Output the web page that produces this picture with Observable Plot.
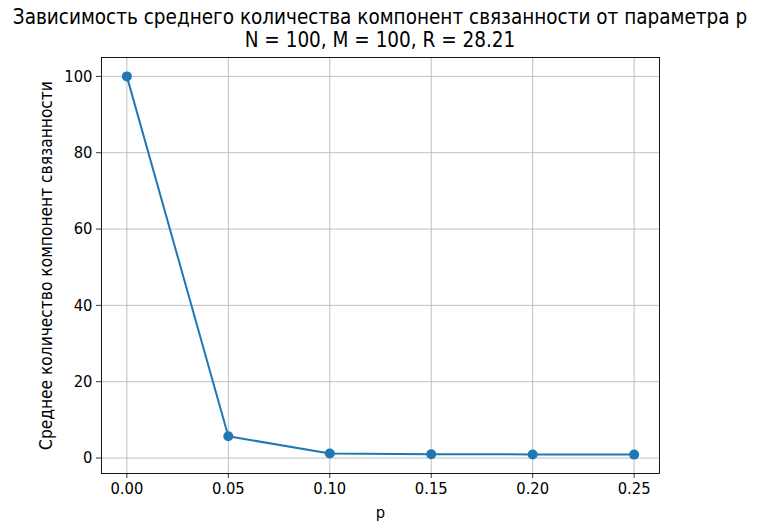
<!DOCTYPE html>
<html>
<head>
<meta charset="utf-8">
<script src="https://cdn.jsdelivr.net/npm/d3@7"></script>
<script src="https://cdn.jsdelivr.net/npm/@observablehq/plot@0.6"></script>
<style>
  html, body { margin: 0; padding: 0; background: #fff; }
  #wrap { position: relative; width: 762px; height: 532px; font-family: "DejaVu Sans Condensed", "DejaVu Sans", sans-serif; }
  .title { position: absolute; left: 0; width: 760px; text-align: center; font-size: 20.5px; color: #000; white-space: nowrap; line-height: 1; }
</style>
</head>
<body>
<div id="wrap">
  <div class="title" style="top:7px;">Зависимость среднего количества компонент связанности от параметра p</div>
  <div class="title" style="top:30px;">N = 100, M = 100, R = 28.21</div>
</div>
<script>
const pValues = [0.00, 0.05, 0.10, 0.15, 0.20, 0.25];
const meanComponents = [100, 5.7, 1.2, 1.0, 0.95, 0.9];
const xTicks = [0.00, 0.05, 0.10, 0.15, 0.20, 0.25];
const yTicks = [0, 20, 40, 60, 80, 100];
const titleText = "Зависимость среднего количества компонент связанности от параметра p";
const subtitleText = "N = 100, M = 100, R = 28.21";
const xLabel = "p";
const yLabel = "Среднее количество компонент связанности";

const data = pValues.map((p, i) => ({p, v: meanComponents[i]}));
const color = "#1f77b4";

const chart = Plot.plot({
  width: 762,
  height: 532,
  marginTop: 57,
  marginBottom: 59,
  marginLeft: 101,
  marginRight: 103,
  style: {fontFamily: "'DejaVu Sans Condensed', 'DejaVu Sans', sans-serif", fontSize: "16.4px", color: "#000", background: "transparent", overflow: "visible"},
  x: {domain: [-0.0125, 0.2625]},
  y: {domain: [-4.05, 104.95]},
  marks: [
    Plot.gridX(xTicks, {stroke: "#b0b0b0", strokeOpacity: 1, strokeWidth: 0.8}),
    Plot.gridY(yTicks, {stroke: "#b0b0b0", strokeOpacity: 1, strokeWidth: 0.8}),
    Plot.axisX(xTicks, {tickSize: 5, tickPadding: 4, tickFormat: d3.format(".2f"), label: xLabel, labelAnchor: "center", labelOffset: 44, labelArrow: "none", fontSize: 16.4, strokeWidth: 0.8}),
    Plot.axisY(yTicks, {tickSize: 5, tickPadding: 4, tickFormat: d3.format("d"), label: null, fontSize: 16.4, strokeWidth: 0.8}),
    Plot.axisY({label: yLabel, labelAnchor: "center", labelOffset: 62, labelArrow: "none", ticks: [], tickSize: 0, fontSize: 17.2}),
    Plot.line(data, {x: "p", y: "v", stroke: color, strokeWidth: 2}),
    Plot.dot(data, {x: "p", y: "v", fill: color, r: 5}),
    Plot.frame({stroke: "#000", strokeWidth: 0.9})
  ]
});
chart.style.position = "absolute";
chart.style.left = "0px";
chart.style.top = "0px";
document.getElementById("wrap").insertBefore(chart, document.getElementById("wrap").firstChild);
</script>
</body>
</html>
